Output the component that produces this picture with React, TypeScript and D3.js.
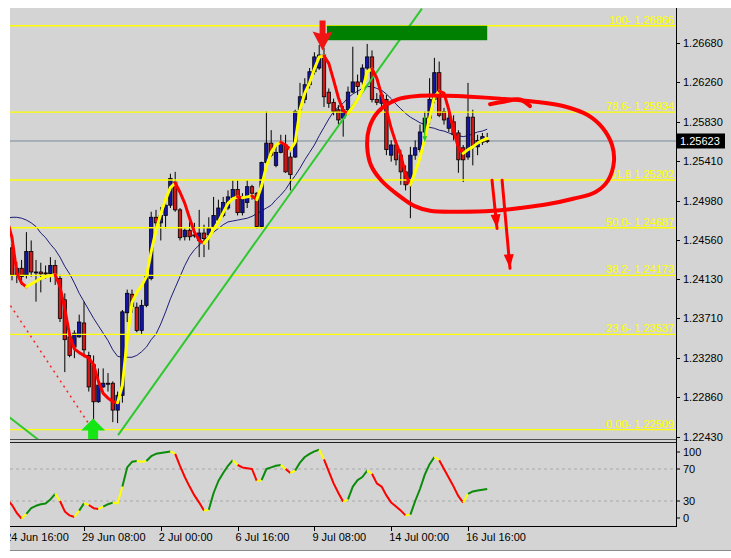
/* eslint-disable react-hooks/exhaustive-deps */
import React, { useEffect, useRef } from "react";
import * as d3 from "d3";

// H4 bars, bar 0 = 24 Jun 16:00, a time label every 16 bars
const timeTickBars = [0, 16, 32, 48, 64, 80, 96];
const timeTickLabels = ["24 Jun 16:00", "29 Jun 08:00", "2 Jul 00:00", "6 Jul 16:00", "9 Jul 08:00", "14 Jul 00:00", "16 Jul 16:00"];

const priceTicks = [1.2243, 1.2286, 1.2328, 1.2371, 1.2413, 1.2456, 1.2498, 1.2541, 1.2583, 1.2626, 1.2668];
const lastPrice = 1.25623;

const fibPrices = [1.26866, 1.25934, 1.25202, 1.24687, 1.24173, 1.23537, 1.22509];
const fibLabels = ["100- 1.26866", "78.6- 1.25934", "61.8 1.25202", "50.0- 1.24687", "38.2- 1.24173", "23.6- 1.23537", "0.00- 1.22509"];

const oscTicks = [100, 70, 30, 0];
const oscLevels = [70, 30];

// candles, bars 1..100
const opens = [
  1.2447, 1.2418, 1.2425, 1.2418, 1.2443, 1.2420, 1.2421, 1.2420, 1.2419, 1.2428,
  1.2414, 1.2391, 1.2351, 1.2340, 1.2351, 1.2366, 1.2331, 1.2321, 1.2281, 1.2297,
  1.2301, 1.2301, 1.2272, 1.2288, 1.2377, 1.2397, 1.2383, 1.2358, 1.2385, 1.2414,
  1.2480, 1.2474, 1.2482, 1.2493, 1.2518, 1.2488, 1.2459, 1.2466, 1.2461, 1.2455,
  1.2463, 1.2461, 1.2470, 1.2477, 1.2482, 1.2490, 1.2501, 1.2510, 1.2485, 1.2496,
  1.2513, 1.2506, 1.2470, 1.2539, 1.2560, 1.2536, 1.2550, 1.2558, 1.2545, 1.2545,
  1.2596, 1.2607, 1.2623, 1.2637, 1.2641, 1.2655, 1.2615, 1.2604, 1.2596, 1.2587,
  1.2596, 1.2615, 1.2626, 1.2626, 1.2641, 1.2653, 1.2607, 1.2603, 1.2607, 1.2547,
  1.2558, 1.2547, 1.2529, 1.2518, 1.2547, 1.2553, 1.2572, 1.2587, 1.2607, 1.2636,
  1.2594, 1.2576, 1.2583, 1.2571, 1.2555, 1.2545, 1.2588, 1.2556, 1.2561, 1.2563,
];
const highs = [
  1.2451, 1.2432, 1.2434, 1.2464, 1.2455, 1.2434, 1.2431, 1.2428, 1.2437, 1.2434,
  1.2418, 1.2398, 1.2356, 1.2358, 1.2375, 1.2389, 1.2335, 1.2331, 1.2317, 1.2317,
  1.2312, 1.2303, 1.2292, 1.2380, 1.2402, 1.2402, 1.2388, 1.2391, 1.2421, 1.2486,
  1.2488, 1.2491, 1.2499, 1.2527, 1.2529, 1.2490, 1.2468, 1.2475, 1.2474, 1.2488,
  1.2472, 1.2480, 1.2502, 1.2499, 1.2502, 1.2509, 1.2520, 1.2520, 1.2506, 1.2520,
  1.2515, 1.2507, 1.2540, 1.2594, 1.2574, 1.2558, 1.2569, 1.2569, 1.2550, 1.2596,
  1.2625, 1.2630, 1.2641, 1.2658, 1.2666, 1.2663, 1.2619, 1.2608, 1.2601, 1.2600,
  1.2621, 1.2664, 1.2634, 1.2645, 1.2667, 1.2660, 1.2614, 1.2617, 1.2612, 1.2563,
  1.2563, 1.2553, 1.2536, 1.2556, 1.2563, 1.2580, 1.2594, 1.2630, 1.2652, 1.2648,
  1.2598, 1.2594, 1.2590, 1.2574, 1.2558, 1.2625, 1.2596, 1.2569, 1.2571, 1.2571,
];
const lows = [
  1.2412, 1.2409, 1.2407, 1.2414, 1.2416, 1.2389, 1.2399, 1.2414, 1.2410, 1.2407,
  1.2367, 1.2313, 1.2329, 1.2328, 1.2350, 1.2329, 1.2292, 1.2251, 1.2280, 1.2296,
  1.2292, 1.2259, 1.2258, 1.2280, 1.2367, 1.2377, 1.2356, 1.2353, 1.2383, 1.2412,
  1.2464, 1.2455, 1.2468, 1.2490, 1.2486, 1.2455, 1.2455, 1.2455, 1.2458, 1.2437,
  1.2437, 1.2445, 1.2466, 1.2475, 1.2480, 1.2488, 1.2499, 1.2482, 1.2482, 1.2490,
  1.2499, 1.2468, 1.2468, 1.2536, 1.2545, 1.2534, 1.2549, 1.2528, 1.2509, 1.2544,
  1.2594, 1.2603, 1.2619, 1.2634, 1.2639, 1.2599, 1.2598, 1.2590, 1.2580, 1.2567,
  1.2592, 1.2614, 1.2612, 1.2623, 1.2639, 1.2604, 1.2601, 1.2594, 1.2547, 1.2540,
  1.2536, 1.2515, 1.2509, 1.2479, 1.2542, 1.2550, 1.2569, 1.2580, 1.2603, 1.2588,
  1.2580, 1.2572, 1.2563, 1.2528, 1.2518, 1.2542, 1.2536, 1.2547, 1.2558, 1.2560,
];
const closes = [
  1.2418, 1.2425, 1.2416, 1.2443, 1.2421, 1.2421, 1.2419, 1.2419, 1.2428, 1.2418,
  1.2371, 1.2348, 1.2331, 1.2355, 1.2367, 1.2337, 1.2297, 1.2281, 1.2299, 1.2301,
  1.2300, 1.2272, 1.2288, 1.2378, 1.2398, 1.2384, 1.2358, 1.2385, 1.2416, 1.2480,
  1.2474, 1.2482, 1.2493, 1.2522, 1.2488, 1.2458, 1.2466, 1.2459, 1.2460, 1.2463,
  1.2457, 1.2468, 1.2482, 1.2490, 1.2496, 1.2502, 1.2510, 1.2485, 1.2501, 1.2513,
  1.2506, 1.2470, 1.2539, 1.2560, 1.2547, 1.2550, 1.2560, 1.2529, 1.2526, 1.2594,
  1.2610, 1.2623, 1.2637, 1.2653, 1.2655, 1.2610, 1.2603, 1.2594, 1.2585, 1.2596,
  1.2615, 1.2626, 1.2621, 1.2641, 1.2653, 1.2607, 1.2604, 1.2612, 1.2553, 1.2558,
  1.2542, 1.2529, 1.2515, 1.2547, 1.2555, 1.2572, 1.2587, 1.2607, 1.2636, 1.2590,
  1.2585, 1.2587, 1.2569, 1.2542, 1.2542, 1.2588, 1.2556, 1.2563, 1.2567, 1.25623,
];

// indicator values, bars 0..100
const maSlow = [
  1.2479, 1.2480, 1.2480, 1.2479, 1.2477, 1.2474, 1.2470, 1.2463, 1.2458, 1.2451, 1.2445,
  1.2437, 1.2427, 1.2419, 1.2409, 1.2398, 1.2389, 1.2380, 1.2371, 1.2363, 1.2355,
  1.2347, 1.2337, 1.2330, 1.2329, 1.2329, 1.2329, 1.2331, 1.2335, 1.2340, 1.2348,
  1.2354, 1.2365, 1.2378, 1.2392, 1.2404, 1.2416, 1.2428, 1.2438, 1.2445, 1.2450,
  1.2455, 1.2460, 1.2464, 1.2468, 1.2472, 1.2475, 1.2476, 1.2477, 1.2478, 1.2479,
  1.2481, 1.2484, 1.2487, 1.2490, 1.2493, 1.2499, 1.2504, 1.2510, 1.2518, 1.2525,
  1.2533, 1.2542, 1.2550, 1.2558, 1.2568, 1.2577, 1.2586, 1.2594, 1.2599, 1.2603,
  1.2609, 1.2613, 1.2616, 1.2619, 1.2621, 1.2621, 1.2619, 1.2617, 1.2613, 1.2608,
  1.2602, 1.2597, 1.2592, 1.2588, 1.2585, 1.2582, 1.2580, 1.2577, 1.2576, 1.2574,
  1.2573, 1.2571, 1.2569, 1.2568, 1.2567, 1.2568, 1.2570, 1.2572, 1.2573, 1.2575,
];
const maFast = [
  1.2477, 1.2458, 1.2420, 1.2409, 1.2405, 1.2408, 1.2411, 1.2414, 1.2416, 1.2417, 1.2418,
  1.2405, 1.2381, 1.2353, 1.2338, 1.2334, 1.2331, 1.2328, 1.2321, 1.2303, 1.2290,
  1.2285, 1.2281, 1.2280, 1.2299, 1.2348, 1.2388, 1.2399, 1.2406, 1.2416, 1.2443,
  1.2466, 1.2484, 1.2499, 1.2512, 1.2517, 1.2507, 1.2495, 1.2479, 1.2464, 1.2455,
  1.2452, 1.2458, 1.2467, 1.2475, 1.2485, 1.2495, 1.2500, 1.2502, 1.2501, 1.2502,
  1.2503, 1.2499, 1.2514, 1.2535, 1.2550, 1.2558, 1.2561, 1.2558, 1.2553, 1.2561,
  1.2596, 1.2614, 1.2625, 1.2640, 1.2653, 1.2654, 1.2646, 1.2628, 1.2609, 1.2595,
  1.2592, 1.2599, 1.2607, 1.2617, 1.2637, 1.2640, 1.2630, 1.2612, 1.2596, 1.2576,
  1.2560, 1.2547, 1.2526, 1.2515, 1.2529, 1.2544, 1.2565, 1.2587, 1.2610, 1.2616,
  1.2614, 1.2596, 1.2574, 1.2555, 1.2549, 1.2553, 1.2556, 1.2560, 1.2563, 1.2565,
];
const osc = [
  32, 25, 15, 8, 14, 21, 24, 26, 27, 32, 39,
  30, 17, 12, 10, 18, 27, 25, 21, 20, 23,
  26, 28, 27, 48, 72, 79, 80, 79, 80, 86,
  89, 90, 91, 92, 89, 74, 60, 48, 37, 28,
  18, 19, 40, 55, 65, 74, 81, 75, 72, 71,
  70, 55, 56, 70, 72, 74, 75, 70, 65, 68,
  78, 85, 89, 92, 94, 82, 67, 52, 40, 29,
  32, 48, 56, 60, 68, 64, 52, 48, 37, 28,
  23, 18, 12, 13, 30, 45, 63, 76, 85, 81,
  70, 59, 48, 36, 28, 39, 42, 43, 44, 45,
];

// drawn objects, [bar, price]
const trendUp = [[23.1, 1.2245], [86.4, 1.2705]];
const trendDown = [[-2, 1.2274], [7, 1.2238]];
const fibDiagonal = [[0, 1.239], [17.8, 1.22509]];
const boxBars = [66.6, 100];
const boxPrices = [1.26866, 1.2671];
const sellArrow = [65.7, 1.266];
const buyArrow = [17.9, 1.2263];
const smallArrow = [[87, 1.2588], [87, 1.2562]];
const circle = [
  [81.2, 1.2607], [86, 1.2611], [91.6, 1.2611], [96.4, 1.261], [102.7, 1.2608], [109.5, 1.2605],
  [115.8, 1.26], [121, 1.259], [124.1, 1.2576], [126, 1.2558], [126.4, 1.254], [125.2, 1.252],
  [122.5, 1.2507], [117.9, 1.25], [112.5, 1.2494], [106.8, 1.249], [101.2, 1.2487], [93.7, 1.2486],
  [88.1, 1.2487], [84.9, 1.2492], [81.2, 1.2505], [77.9, 1.252], [75.8, 1.2536], [75, 1.2556],
  [75.4, 1.2576], [77.3, 1.2594],
];
const hook = [[100.6, 1.2602], [103.7, 1.2605], [106.8, 1.2607], [108.9, 1.26]];
const downArrows = [
  [[101, 1.252], [102.05, 1.2468]],
  [[103.1, 1.252], [104.75, 1.2425]],
];

const W = 731;
const H = 558;

const App: React.FC = () => {
  const svgRef = useRef<SVGSVGElement | null>(null);

  useEffect(() => {
    drawChart();
  }, []);

  const drawChart = () => {
    if (!svgRef.current) return;
    const svg = d3.select(svgRef.current);
    svg.selectAll("*").remove();

    const left = 10;
    const right = 676;
    const top = 8;
    const mainBottom = 439;
    const oscTop = 443;
    const oscBottom = 526;
    const font = "'Liberation Sans', Arial, sans-serif";

    const x = d3.scaleLinear().domain([0, 96]).range([7.2, 468]);
    const y = d3.scaleLinear().domain([1.2243, 1.2668]).range([437, 43]);
    const yo = d3.scaleLinear().domain([0, 100]).range([525, 445]);

    svg.append("rect").attr("width", W).attr("height", H).attr("fill", "#fff");
    svg.append("rect").attr("x", left).attr("y", top).attr("width", W - left).attr("height", 551 - top).attr("fill", "#d4d4d4");
    svg.append("line").attr("x1", left).attr("x2", W).attr("y1", 550.5).attr("y2", 550.5).attr("stroke", "#8a8a8a");

    const defs = svg.append("defs");
    defs.append("clipPath").attr("id", "mainClip").append("rect")
      .attr("x", left).attr("y", top).attr("width", right - left).attr("height", mainBottom - top);
    defs.append("clipPath").attr("id", "oscClip").append("rect")
      .attr("x", left).attr("y", oscTop).attr("width", right - left).attr("height", oscBottom - oscTop);
    defs.append("clipPath").attr("id", "axisClip").append("rect")
      .attr("x", left).attr("y", oscBottom).attr("width", W - left).attr("height", 24);

    const main = svg.append("g").attr("clip-path", "url(#mainClip)");

    // current price line
    main.append("line").attr("x1", left).attr("x2", right)
      .attr("y1", y(lastPrice)).attr("y2", y(lastPrice)).attr("stroke", "#778899").attr("stroke-width", 1);

    // slow MA
    const line = d3.line<number>().x((_, i) => x(i)).y((d) => y(d));
    main.append("path").attr("d", line(maSlow)).attr("fill", "none").attr("stroke", "#1c1c78").attr("stroke-width", 1);

    // candles
    const bars = d3.range(100).map((i) => ({ k: i + 1, o: opens[i], h: highs[i], l: lows[i], c: closes[i] }));
    main.selectAll(".wick").data(bars).join("line")
      .attr("x1", (d) => x(d.k)).attr("x2", (d) => x(d.k))
      .attr("y1", (d) => y(d.h)).attr("y2", (d) => y(d.l))
      .attr("stroke", "#000").attr("stroke-width", 1);
    const bw = 3.4;
    main.selectAll(".body").data(bars).join("rect")
      .attr("x", (d) => x(d.k) - bw / 2)
      .attr("y", (d) => y(Math.max(d.o, d.c)))
      .attr("width", bw)
      .attr("height", (d) => Math.max(1, Math.abs(y(d.o) - y(d.c))))
      .attr("fill", (d) => (d.c >= d.o ? "#1414a8" : "#d01818"))
      .attr("stroke", "#000").attr("stroke-width", 0.8);

    // fibonacci levels
    main.selectAll(".fib").data(fibPrices).join("line")
      .attr("x1", left).attr("x2", right)
      .attr("y1", (d) => y(d)).attr("y2", (d) => y(d))
      .attr("stroke", "#ffff00").attr("stroke-width", 1.3);
    main.append("path")
      .attr("d", d3.line()(fibDiagonal.map(([b, p]) => [x(b), y(p)] as [number, number])))
      .attr("stroke", "#ff2020").attr("stroke-width", 1.5).attr("stroke-dasharray", "2,4").attr("fill", "none");

    // trend lines
    [trendUp, trendDown].forEach((t) => {
      main.append("path")
        .attr("d", d3.line()(t.map(([b, p]) => [x(b), y(p)] as [number, number])))
        .attr("stroke", "#2ec82e").attr("stroke-width", 2).attr("fill", "none");
    });

    // runs of colour for segmented lines
    const colorRuns = (vals: number[], colorOf: (k: number) => string) => {
      const runs: { color: string; pts: number[] }[] = [];
      for (let k = 1; k < vals.length; k++) {
        const c = colorOf(k);
        const last = runs[runs.length - 1];
        if (last && last.color === c) last.pts.push(k);
        else runs.push({ color: c, pts: [k - 1, k] });
      }
      return runs;
    };

    // fast MA, yellow rising, red falling
    const fastRuns = colorRuns(maFast, (k) => (maFast[k] >= maFast[k - 1] ? "#ffff00" : "#ff0000"));
    const fastLine = d3.line<number>().x((k) => x(k)).y((k) => y(maFast[k]));
    main.selectAll(".fast").data(fastRuns).join("path")
      .attr("d", (d) => fastLine(d.pts))
      .attr("fill", "none").attr("stroke", (d) => d.color).attr("stroke-width", 3)
      .attr("stroke-linejoin", "round").attr("stroke-linecap", "round");

    // fib labels
    main.selectAll(".fibText").data(fibPrices).join("text")
      .attr("x", right - 2).attr("y", (d) => y(d) - 2)
      .attr("text-anchor", "end").attr("font-family", font).attr("font-size", 11)
      .attr("fill", "#ffff00").text((_, i) => fibLabels[i]);

    // rectangle object
    main.append("rect")
      .attr("x", x(boxBars[0])).attr("y", y(boxPrices[0]))
      .attr("width", x(boxBars[1]) - x(boxBars[0])).attr("height", y(boxPrices[1]) - y(boxPrices[0]))
      .attr("fill", "#008000");

    // sell / buy arrows
    const sx = x(sellArrow[0]);
    const sy = y(sellArrow[1]);
    main.append("polygon")
      .attr("points", [[sx - 3, sy - 30], [sx + 3, sy - 30], [sx + 3, sy - 17], [sx + 10, sy - 19], [sx, sy], [sx - 10, sy - 19], [sx - 3, sy - 17]].map((p) => p.join(",")).join(" "))
      .attr("fill", "#f01414");
    const gx = x(buyArrow[0]);
    const gy = y(buyArrow[1]);
    main.append("polygon")
      .attr("points", [[gx - 5, gy + 24], [gx + 5, gy + 24], [gx + 5, gy + 12], [gx + 12, gy + 12], [gx, gy], [gx - 12, gy + 12], [gx - 5, gy + 12]].map((p) => p.join(",")).join(" "))
      .attr("fill", "#14e614");

    const arrowHead = (g: d3.Selection<SVGGElement, unknown, null, undefined>, x1: number, y1: number, x2: number, y2: number, color: string, width: number, len: number, half: number) => {
      g.append("line").attr("x1", x1).attr("y1", y1).attr("x2", x2).attr("y2", y2)
        .attr("stroke", color).attr("stroke-width", width).attr("stroke-linecap", "round");
      const a = Math.atan2(y2 - y1, x2 - x1);
      const bx = x2 - len * Math.cos(a);
      const by = y2 - len * Math.sin(a);
      const px = -Math.sin(a) * half;
      const py = Math.cos(a) * half;
      g.append("polygon")
        .attr("points", `${x2},${y2} ${bx + px},${by + py} ${bx - px},${by - py}`)
        .attr("fill", color);
    };

    const ann = main.append("g");
    arrowHead(ann, x(smallArrow[0][0]), y(smallArrow[0][1]), x(smallArrow[1][0]), y(smallArrow[1][1]), "#22cc22", 1.2, 5, 2.5);

    // hand drawn marks
    ann.append("path")
      .attr("d", d3.line().curve(d3.curveCatmullRomClosed)(circle.map(([b, p]) => [x(b), y(p)] as [number, number])))
      .attr("fill", "none").attr("stroke", "#ff0000").attr("stroke-width", 4);
    ann.append("path")
      .attr("d", d3.line().curve(d3.curveCatmullRom)(hook.map(([b, p]) => [x(b), y(p)] as [number, number])))
      .attr("fill", "none").attr("stroke", "#ff0000").attr("stroke-width", 4).attr("stroke-linecap", "round");
    downArrows.forEach(([a, b]) => {
      arrowHead(ann, x(a[0]), y(a[1]), x(b[0]), y(b[1]), "#ff0000", 3, 14, 5);
    });

    // oscillator panel
    const oscG = svg.append("g").attr("clip-path", "url(#oscClip)");
    oscG.selectAll(".lvl").data(oscLevels).join("line")
      .attr("x1", left).attr("x2", right).attr("y1", (d) => yo(d)).attr("y2", (d) => yo(d))
      .attr("stroke", "#a8a8a8").attr("stroke-dasharray", "3,3");
    const dirs = osc.map((v, k) => (k === 0 ? 0 : Math.sign(v - osc[k - 1])));
    const oscRuns = colorRuns(osc, (k) => {
      if (k > 1 && dirs[k] !== dirs[k - 1]) return "#ffff00";
      return dirs[k] > 0 ? "#0a8c0a" : "#ff0000";
    });
    const oscLine = d3.line<number>().x((k) => x(k)).y((k) => yo(osc[k]));
    oscG.selectAll(".osc").data(oscRuns).join("path")
      .attr("d", (d) => oscLine(d.pts))
      .attr("fill", "none").attr("stroke", (d) => d.color).attr("stroke-width", 2)
      .attr("stroke-linejoin", "round");

    // frames
    svg.append("line").attr("x1", left).attr("x2", right).attr("y1", mainBottom + 0.5).attr("y2", mainBottom + 0.5).attr("stroke", "#505050");
    svg.append("line").attr("x1", left).attr("x2", right).attr("y1", oscTop - 0.5).attr("y2", oscTop - 0.5).attr("stroke", "#202020");
    svg.append("line").attr("x1", left).attr("x2", right).attr("y1", oscBottom + 0.5).attr("y2", oscBottom + 0.5).attr("stroke", "#000");
    svg.append("line").attr("x1", right + 0.5).attr("x2", right + 0.5).attr("y1", top).attr("y2", oscBottom + 1).attr("stroke", "#000");

    // price axis
    const pAxis = svg.append("g");
    pAxis.selectAll("line").data(priceTicks).join("line")
      .attr("x1", right).attr("x2", right + 4).attr("y1", (d) => Math.round(y(d)) + 0.5).attr("y2", (d) => Math.round(y(d)) + 0.5)
      .attr("stroke", "#000");
    pAxis.selectAll("text").data(priceTicks).join("text")
      .attr("x", right + 7).attr("y", (d) => y(d) + 4)
      .attr("font-family", font).attr("font-size", 11).attr("fill", "#000")
      .text((d) => d.toFixed(5));
    pAxis.append("rect").attr("x", right + 1).attr("y", y(lastPrice) - 7.5).attr("width", 48).attr("height", 15).attr("fill", "#000");
    pAxis.append("text").attr("x", right + 4).attr("y", y(lastPrice) + 4)
      .attr("font-family", font).attr("font-size", 11).attr("fill", "#fff").text(lastPrice.toFixed(5));

    // oscillator axis
    const oAxis = svg.append("g");
    oAxis.selectAll("line").data(oscTicks).join("line")
      .attr("x1", right).attr("x2", right + 4)
      .attr("y1", (d) => Math.min(Math.max(yo(d), 452), 518)).attr("y2", (d) => Math.min(Math.max(yo(d), 452), 518))
      .attr("stroke", "#000");
    oAxis.selectAll("text").data(oscTicks).join("text")
      .attr("x", right + 7).attr("y", (d) => Math.min(Math.max(yo(d), 452), 518) + 4)
      .attr("font-family", font).attr("font-size", 11).attr("fill", "#000")
      .text((d) => String(d));

    // time axis
    const tAxis = svg.append("g").attr("clip-path", "url(#axisClip)");
    tAxis.selectAll("line").data(timeTickBars).join("line")
      .attr("x1", (d) => Math.round(x(d)) + 0.5).attr("x2", (d) => Math.round(x(d)) + 0.5)
      .attr("y1", oscBottom).attr("y2", oscBottom + 5).attr("stroke", "#000");
    tAxis.selectAll("text").data(timeTickBars).join("text")
      .attr("x", (d) => x(d) - 2).attr("y", oscBottom + 15)
      .attr("font-family", font).attr("font-size", 11).attr("fill", "#000")
      .text((_, i) => timeTickLabels[i]);
  };

  return (
    <svg
      ref={svgRef}
      width={W}
      height={H}
      style={{ position: "absolute", left: 0, top: 0, display: "block" }}
    />
  );
};

export default App;
